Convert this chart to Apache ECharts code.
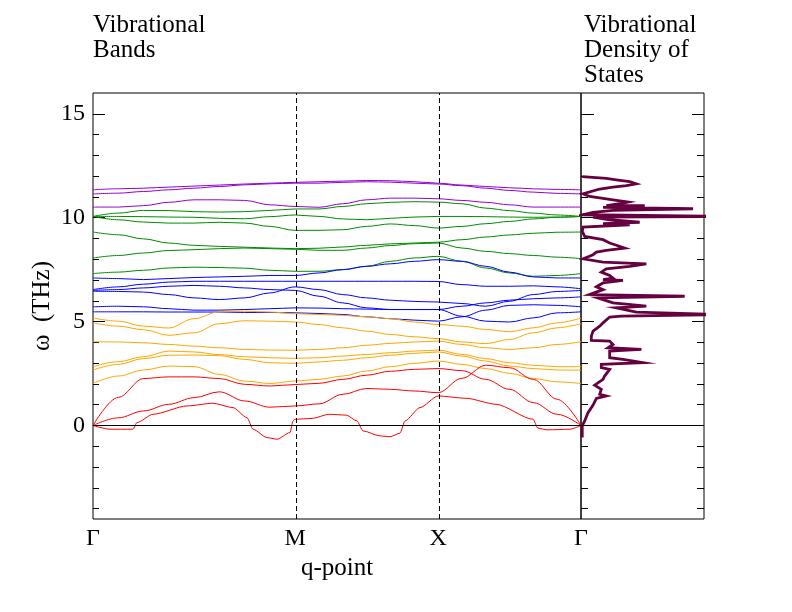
<!DOCTYPE html>
<html><head><meta charset="utf-8">
<script src="https://cdn.jsdelivr.net/npm/echarts@6/dist/echarts.min.js"></script>
<style>html,body{margin:0;padding:0;background:#fff}#c{width:792px;height:612px}</style>
</head><body><div id="c"></div>
<script>
const FONT = '"Liberation Serif", "Times New Roman", Times, serif';

// high-symmetry points along the q-path (Γ-M-X-Γ, square lattice)
const qPoints = [0, 0.7071, 1.2071, 1.7071];
const qLabels = ['Γ', 'M', 'X', 'Γ'];

// shared q sampling grid for the bands
const qGrid = [0, 0.0884, 0.1768, 0.2652, 0.3536, 0.4419, 0.5303, 0.6187, 0.7071,
  0.7904, 0.8738, 0.9571, 1.0404, 1.1238, 1.2071,
  1.2904, 1.3738, 1.4571, 1.5404, 1.6238, 1.7071];

// band frequencies (THz)
const purple1 = [11.34, 11.39, 11.42, 11.47, 11.52, 11.57, 11.62, 11.66, 11.70, 11.73, 11.76, 11.79, 11.78, 11.73, 11.66, 11.57, 11.50, 11.44, 11.39, 11.36, 11.34];
const purple2 = [11.14, 11.18, 11.26, 11.34, 11.42, 11.50, 11.58, 11.63, 11.66, 11.66, 11.70, 11.73, 11.71, 11.66, 11.62, 11.54, 11.42, 11.31, 11.23, 11.17, 11.14];
const purple3 = [10.51, 10.51, 10.58, 10.74, 10.86, 10.86, 10.83, 10.62, 10.54, 10.50, 10.67, 10.86, 10.94, 10.94, 10.91, 10.83, 10.74, 10.62, 10.51, 10.51, 10.51];

const green1 = [10.06, 10.22, 10.35, 10.34, 10.29, 10.27, 10.29, 10.35, 10.42, 10.42, 10.54, 10.67, 10.74, 10.77, 10.75, 10.67, 10.46, 10.34, 10.22, 10.13, 10.06];
const green2 = [10.06, 10.06, 10.05, 10.03, 10.02, 9.97, 9.95, 10.05, 10.13, 10.06, 9.94, 9.90, 9.97, 10.03, 10.06, 10.06, 10.05, 10.03, 10.02, 10.03, 10.06];
const green3 = [10.06, 9.90, 9.79, 9.74, 9.74, 9.78, 9.74, 9.58, 9.39, 9.39, 9.42, 9.58, 9.70, 9.62, 9.50, 9.58, 9.71, 9.82, 9.94, 10.02, 10.06];
const green4 = [9.31, 9.18, 8.98, 8.78, 8.67, 8.62, 8.58, 8.54, 8.51, 8.53, 8.59, 8.67, 8.74, 8.78, 8.82, 8.94, 9.07, 9.17, 9.25, 9.30, 9.31];
const green5 = [8.06, 8.18, 8.30, 8.42, 8.46, 8.51, 8.54, 8.51, 8.48, 8.43, 8.43, 8.54, 8.66, 8.75, 8.78, 8.54, 8.38, 8.27, 8.18, 8.10, 8.03];
const green6 = [7.31, 7.38, 7.47, 7.58, 7.62, 7.60, 7.57, 7.47, 7.42, 7.42, 7.50, 7.66, 7.90, 8.06, 8.14, 7.90, 7.58, 7.34, 7.18, 7.22, 7.31];

const blue1 = [7.10, 7.07, 7.02, 7.07, 7.12, 7.15, 7.18, 7.22, 7.22, 7.34, 7.50, 7.66, 7.78, 7.90, 7.98, 7.90, 7.66, 7.38, 7.15, 7.10, 7.10];
const blue2 = [6.54, 6.67, 6.80, 6.90, 6.94, 6.94, 6.94, 6.94, 6.94, 6.94, 6.94, 6.94, 6.94, 6.94, 6.93, 6.78, 6.70, 6.70, 6.72, 6.67, 6.58];
const blue3 = [6.46, 6.45, 6.42, 6.30, 6.14, 6.06, 6.14, 6.38, 6.67, 6.54, 6.30, 6.14, 6.03, 5.97, 5.94, 5.87, 5.74, 5.98, 6.30, 6.45, 6.50];
const blue4 = [6.50, 6.54, 6.62, 6.70, 6.74, 6.70, 6.62, 6.54, 6.50, 6.22, 5.90, 5.66, 5.58, 5.58, 5.58, 5.26, 5.02, 4.98, 5.18, 5.42, 5.47];
const blue5 = [5.71, 5.74, 5.71, 5.62, 5.55, 5.55, 5.58, 5.62, 5.66, 5.65, 5.62, 5.60, 5.58, 5.58, 5.58, 5.74, 5.90, 6.03, 6.10, 6.14, 6.19];
const blue6 = [5.47, 5.47, 5.47, 5.46, 5.46, 5.46, 5.44, 5.44, 5.42, 5.39, 5.34, 5.23, 5.14, 5.07, 5.02, 5.23, 5.55, 5.78, 5.81, 5.78, 5.71];

const orange1 = [5.17, 5.02, 4.78, 4.69, 5.14, 5.47, 5.50, 5.46, 5.38, 5.34, 5.30, 5.23, 5.14, 4.98, 4.86, 4.78, 4.62, 4.51, 4.70, 4.94, 5.17];
const orange2 = [4.94, 4.78, 4.61, 4.34, 4.46, 4.90, 5.04, 5.02, 4.98, 4.86, 4.70, 4.54, 4.38, 4.27, 4.18, 4.02, 3.94, 4.14, 4.46, 4.70, 4.90];
const orange3 = [4.03, 4.02, 3.98, 3.90, 3.82, 3.74, 3.66, 3.63, 3.62, 3.66, 3.74, 3.86, 3.95, 4.02, 4.06, 3.90, 3.74, 3.66, 3.74, 3.90, 4.03];
const orange4 = [2.83, 3.07, 3.31, 3.58, 3.54, 3.41, 3.31, 3.26, 3.23, 3.26, 3.34, 3.42, 3.50, 3.58, 3.63, 3.42, 3.22, 3.02, 2.90, 2.83, 2.83];
const orange5 = [2.67, 2.94, 3.22, 3.38, 3.39, 3.36, 3.18, 3.02, 2.99, 3.06, 3.14, 3.26, 3.38, 3.47, 3.54, 3.34, 3.10, 2.86, 2.74, 2.67, 2.66];
const orange6 = [2.02, 2.38, 2.67, 2.86, 2.83, 2.46, 2.14, 2.02, 2.14, 2.22, 2.38, 2.62, 2.83, 2.99, 3.10, 2.94, 2.74, 2.51, 2.26, 2.10, 2.02];

const red3 = [0, 1.35, 2.26, 2.34, 2.34, 2.26, 1.98, 1.90, 1.97, 2.03, 2.22, 2.42, 2.61, 2.70, 2.74, 2.64, 2.22, 1.74, 1.10, 0.54, 0];
const red2 = [0, 0.37, 0.70, 1.02, 1.34, 1.62, 1.18, 0.88, 0.94, 1.04, 1.50, 1.78, 1.74, 1.66, 1.58, 2.27, 2.90, 2.78, 2.22, 1.26, 0];

// lowest acoustic band, finer sampling (has imaginary dips)
const red1Q = [0, 0.0595, 0.1399, 0.1539, 0.2099, 0.3288, 0.4198, 0.4897, 0.5387, 0.5597, 0.6087, 0.6437, 0.6892, 0.6997, 0.7071,
  0.7667, 0.8262, 0.8857, 0.9235, 0.9445, 1.0039, 1.0389, 1.0739, 1.0914, 1.1439, 1.2071,
  1.3050, 1.4100, 1.5392, 1.5567, 1.5882, 1.6687, 1.7071];
const red1 = [0, -0.18, -0.18, 0.14, 0.54, 0.94, 1.07, 0.86, 0.38, -0.18, -0.58, -0.66, -0.34, 0.22, 0.30,
  0.34, 0.54, 0.50, 0.22, -0.26, -0.50, -0.54, -0.37, 0.22, 0.86, 1.42,
  1.31, 1.02, 0.30, -0.13, -0.21, -0.18, 0];

// vibrational density of states
const dosFreq = [11.98, 11.89, 11.82, 11.74, 11.63, 11.54, 11.47, 11.38, 11.30, 11.15, 11.10, 11.02, 10.93, 10.83, 10.75, 10.67, 10.58, 10.58, 10.50, 10.43, 10.35, 10.26, 10.14, 10.06, 10.03, 9.90, 9.78, 9.71, 9.66, 9.55, 9.34, 9.10, 8.94, 8.78, 8.54, 8.43, 8.34, 8.22, 8.02, 7.86, 7.78, 7.66, 7.54, 7.38, 7.22, 7.09, 7.02, 6.98, 6.86, 6.67, 6.54, 6.30, 6.22, 6.14, 6.06, 5.90, 5.74, 5.66, 5.46, 5.34, 5.26, 5.22, 4.94, 4.78, 4.54, 4.30, 4.10, 4.06, 3.90, 3.74, 3.66, 3.58, 3.26, 3.18, 3.02, 2.94, 2.78, 2.70, 2.38, 2.22, 1.94, 1.74, 1.50, 1.42, 1.30, 0.98, 0.62, 0.22, -0.02, -0.58];
const dosValue = [0.01, 0.206, 0.287, 0.396, 0.450, 0.369, 0.260, 0.152, 0.138, 0.016, 0.01, 0.070, 0.179, 0.287, 0.382, 0.314, 0.206, 0.518, 0.179, 0.911, 0.260, 0.098, 0.016, 1.15, 0.098, 0.233, 0.477, 0.179, 0.396, 0.016, 0.01, 0.030, 0.179, 0.233, 0.355, 0.206, 0.125, 0.098, 0.016, 0.179, 0.531, 0.396, 0.206, 0.165, 0.233, 0.260, 0.179, 0.341, 0.179, 0.125, 0.179, 0.070, 0.843, 0.138, 0.179, 0.260, 0.531, 0.287, 0.450, 1.15, 0.328, 0.233, 0.179, 0.152, 0.098, 0.084, 0.084, 0.233, 0.260, 0.220, 0.491, 0.233, 0.233, 0.341, 0.504, 0.165, 0.165, 0.233, 0.192, 0.179, 0.111, 0.165, 0.152, 0.206, 0.125, 0.098, 0.057, 0.030, 0.01, 0.01];

const yMajor = [0, 5, 10, 15];
const yMinor = [-4, -3, -2, -1, 1, 2, 3, 4, 6, 7, 8, 9, 11, 12, 13, 14];

const bandGroups = [
  { color: '#9400d3', bands: [purple1, purple2, purple3] },
  { color: '#008b00', bands: [green1, green2, green3, green4, green5, green6] },
  { color: '#0000ff', bands: [blue1, blue2, blue3, blue4, blue5, blue6] },
  { color: '#ffa500', bands: [orange1, orange2, orange3, orange4, orange5, orange6] },
  { color: '#ff0000', bands: [red2, red3] }
];

const Y_MIN = -4.5, Y_MAX = 16;

function yAx(gridIndex, position, values, len, withLabels) {
  return {
    type: 'value', gridIndex: gridIndex, position: position, min: Y_MIN, max: Y_MAX,
    axisLine: { show: false }, splitLine: { show: false },
    axisTick: { show: true, inside: true, length: len, customValues: values, lineStyle: { color: '#000', width: 1 } },
    axisLabel: withLabels ? { show: true, customValues: values, color: '#000', fontFamily: FONT, fontSize: 24, margin: 8 } : { show: false }
  };
}

const series = [];
bandGroups.forEach(g => {
  g.bands.forEach(b => {
    series.push({
      type: 'line', xAxisIndex: 0, yAxisIndex: 0, silent: true,
      data: qGrid.map((q, i) => [q, b[i]]),
      showSymbol: false, smooth: 0.35, smoothMonotone: 'x',
      lineStyle: { color: g.color, width: 1 }
    });
  });
});
series.push({
  type: 'line', xAxisIndex: 0, yAxisIndex: 0, silent: true,
  data: red1Q.map((q, i) => [q, red1[i]]),
  showSymbol: false, smooth: 0.25, smoothMonotone: 'x',
  lineStyle: { color: '#ff0000', width: 1 },
  markLine: {
    silent: true, symbol: 'none', animation: false, label: { show: false },
    data: [
      { xAxis: qPoints[1], lineStyle: { color: '#000', width: 1, type: [5, 3] } },
      { xAxis: qPoints[2], lineStyle: { color: '#000', width: 1, type: [5, 3] } },
      { yAxis: 0, lineStyle: { color: '#000', width: 1, type: 'solid' } }
    ]
  }
});
series.push({
  type: 'line', xAxisIndex: 1, yAxisIndex: 2, silent: true,
  data: dosFreq.map((f, i) => [dosValue[i], f]),
  showSymbol: false, clip: true,
  lineStyle: { color: '#660040', width: 2.8, join: 'miter' },
  markLine: {
    silent: true, symbol: 'none', animation: false, label: { show: false },
    data: [{ yAxis: 0, lineStyle: { color: '#000', width: 1, type: 'solid' } }]
  }
});

const chart = echarts.init(document.getElementById('c'), null, { renderer: 'canvas' });
chart.setOption({
  animation: false,
  backgroundColor: '#fff',
  grid: [
    { left: 93, top: 93, width: 488, height: 426, show: true, borderColor: '#000', borderWidth: 1, backgroundColor: 'transparent' },
    { left: 581, top: 93, width: 123, height: 426, show: true, borderColor: '#000', borderWidth: 1, backgroundColor: 'transparent' }
  ],
  xAxis: [
    {
      type: 'value', gridIndex: 0, min: 0, max: qPoints[3],
      axisLine: { show: false }, splitLine: { show: false }, axisTick: { show: false },
      axisLabel: {
        show: true, customValues: qPoints, color: '#000', fontFamily: FONT, fontSize: 24, margin: 8,
        formatter: v => { const i = qPoints.findIndex(p => Math.abs(p - v) < 1e-3); return i >= 0 ? qLabels[i] : ''; }
      },
      name: 'q-point', nameLocation: 'middle', nameGap: 27,
      nameTextStyle: { color: '#000', fontFamily: FONT, fontSize: 25 }
    },
    {
      type: 'value', gridIndex: 1, min: 0, max: 1,
      axisLine: { show: false }, splitLine: { show: false }, axisTick: { show: false }, axisLabel: { show: false }
    }
  ],
  yAxis: [
    yAx(0, 'left', yMajor, 12, true),
    yAx(0, 'left', yMinor, 6, false),
    yAx(1, 'left', yMajor, 13, false),
    yAx(1, 'left', yMinor, 7, false),
    yAx(1, 'right', yMajor, 12, false),
    yAx(1, 'right', yMinor, 7, false)
  ],
  graphic: [
    { type: 'text', left: 93, top: 13, style: { text: 'Vibrational\nBands', font: '25px ' + FONT, fill: '#000', lineHeight: 25 } },
    { type: 'text', left: 584, top: 13, style: { text: 'Vibrational\nDensity of\nStates', font: '25px ' + FONT, fill: '#000', lineHeight: 25 } },
    { type: 'text', x: 42, y: 306, rotation: Math.PI / 2, style: { text: 'ω  (THz)', font: '25px ' + FONT, fill: '#000', align: 'center', verticalAlign: 'middle' } }
  ],
  series: series
});
</script>
</body></html>
